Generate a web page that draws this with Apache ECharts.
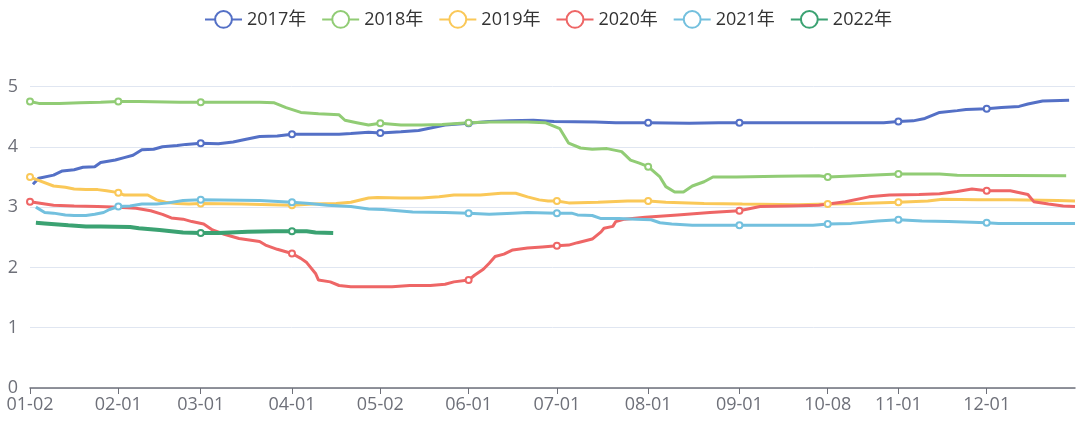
<!DOCTYPE html>
<html>
<head>
<meta charset="utf-8">
<script src="https://cdn.jsdelivr.net/npm/echarts@6/dist/echarts.min.js"></script>
<style>
html,body{margin:0;padding:0;background:#fff;}
#chart{width:1080px;height:433px;}
</style>
</head>
<body>
<div id="chart"></div>
<script>
// ---- categories (calendar days, holidays removed) ----
const monthDays = [31,28,31,30,31,30,31,31,30,31,30,31];
const excludedDays = ['01-01','05-01','10-01','10-02','10-03','10-04','10-05','10-06','10-07'];
const labelDays = ['01-02','02-01','03-01','04-01','05-02','06-01','07-01','08-01','09-01','10-08','11-01','12-01'];
const yTicks = [0,1,2,3,4,5];

const seriesNames = ['2017年','2018年','2019年','2020年','2021年','2022年'];
const seriesColors = ['#5470c6','#91cc75','#fac858','#ee6666','#73c0de','#3ba272'];

// ---- values: [date, value] ----
const d2017 = [['01-03',3.38],['01-05',3.48],['01-10',3.53],['01-13',3.60],['01-17',3.62],['01-20',3.66],['01-24',3.67],['01-26',3.74],['01-31',3.78],['02-03',3.82],['02-06',3.86],['02-09',3.95],['02-13',3.96],['02-16',4.00],['02-21',4.02],['02-24',4.04],['03-01',4.06],['03-07',4.05],['03-12',4.08],['03-16',4.12],['03-21',4.17],['03-27',4.18],['04-01',4.21],['04-17',4.21],['04-21',4.22],['04-27',4.24],['05-02',4.23],['05-09',4.25],['05-15',4.27],['05-24',4.36],['06-01',4.39],['06-08',4.42],['06-15',4.43],['06-23',4.44],['06-30',4.42],['07-14',4.41],['07-21',4.40],['08-01',4.40],['08-15',4.39],['08-25',4.40],['09-01',4.40],['10-13',4.40],['10-27',4.40],['11-01',4.42],['11-06',4.43],['11-10',4.47],['11-15',4.57],['11-21',4.60],['11-24',4.62],['12-01',4.63],['12-06',4.65],['12-12',4.67],['12-15',4.71],['12-20',4.76],['12-29',4.77]];
const d2018 = [['01-02',4.75],['01-05',4.72],['01-12',4.72],['01-19',4.73],['01-26',4.74],['02-01',4.75],['02-08',4.75],['02-22',4.74],['03-01',4.74],['03-21',4.74],['03-26',4.73],['03-30',4.65],['04-04',4.57],['04-10',4.55],['04-17',4.53],['04-19',4.44],['04-23',4.40],['04-27',4.36],['05-02',4.39],['05-09',4.36],['05-16',4.36],['05-23',4.37],['06-01',4.40],['06-08',4.41],['06-21',4.41],['06-27',4.40],['07-02',4.30],['07-05',4.06],['07-09',3.98],['07-13',3.96],['07-18',3.97],['07-23',3.92],['07-26',3.78],['07-29',3.73],['08-01',3.67],['08-05',3.50],['08-07',3.34],['08-10',3.25],['08-13',3.25],['08-16',3.35],['08-20',3.42],['08-23',3.50],['08-31',3.50],['09-14',3.51],['09-28',3.52],['10-08',3.50],['10-22',3.53],['11-01',3.55],['11-15',3.55],['11-21',3.53],['12-28',3.52]];
const d2019 = [['01-02',3.50],['01-04',3.46],['01-10',3.35],['01-14',3.33],['01-17',3.30],['01-21',3.29],['01-25',3.29],['01-28',3.27],['02-01',3.24],['02-03',3.20],['02-11',3.20],['02-14',3.12],['02-17',3.08],['02-21',3.06],['02-25',3.05],['03-01',3.06],['03-15',3.05],['03-25',3.04],['04-01',3.03],['04-08',3.05],['04-16',3.06],['04-21',3.08],['04-27',3.15],['04-30',3.16],['05-09',3.15],['05-16',3.15],['05-22',3.17],['05-27',3.20],['06-05',3.20],['06-12',3.23],['06-17',3.23],['06-21',3.17],['06-25',3.12],['06-28',3.10],['07-01',3.10],['07-05',3.07],['07-15',3.08],['07-25',3.10],['08-01',3.10],['08-07',3.08],['08-20',3.06],['09-02',3.05],['09-21',3.04],['10-08',3.05],['10-19',3.06],['11-01',3.08],['11-11',3.10],['11-16',3.13],['11-28',3.12],['12-09',3.12],['12-25',3.11],['12-31',3.10]];
const d2020 = [['01-02',3.09],['01-10',3.03],['01-17',3.02],['01-25',3.01],['01-30',3.00],['02-04',2.99],['02-07',2.98],['02-12',2.94],['02-16',2.88],['02-19',2.82],['02-23',2.80],['02-26',2.76],['02-28',2.74],['03-02',2.72],['03-05',2.62],['03-09',2.55],['03-14',2.48],['03-21',2.43],['03-23',2.37],['03-27',2.30],['04-01',2.23],['04-04',2.15],['04-06',2.08],['04-09',1.90],['04-10',1.79],['04-14',1.76],['04-17',1.70],['04-21',1.68],['05-06',1.68],['05-12',1.70],['05-19',1.70],['05-24',1.72],['05-27',1.76],['06-01',1.79],['06-03',1.87],['06-06',1.97],['06-08',2.07],['06-10',2.18],['06-13',2.22],['06-16',2.29],['06-21',2.32],['06-26',2.34],['07-01',2.36],['07-05',2.37],['07-08',2.41],['07-13',2.47],['07-16',2.59],['07-17',2.65],['07-20',2.68],['07-21',2.76],['07-24',2.80],['07-31',2.83],['08-11',2.87],['08-22',2.91],['09-01',2.94],['09-08',3.01],['09-18',3.02],['09-28',3.03],['10-14',3.09],['10-22',3.17],['10-29',3.20],['11-08',3.21],['11-15',3.22],['11-21',3.26],['11-26',3.30],['12-01',3.27],['12-09',3.27],['12-15',3.21],['12-17',3.09],['12-22',3.05],['12-27',3.02],['12-31',3.01]];
const d2021 = [['01-04',3.00],['01-07',2.91],['01-10',2.90],['01-14',2.87],['01-17',2.86],['01-21',2.86],['01-24',2.88],['01-27',2.91],['01-29',2.96],['02-01',3.01],['02-05',3.02],['02-09',3.05],['02-14',3.05],['02-18',3.07],['02-23',3.11],['03-01',3.12],['03-21',3.11],['04-01',3.08],['04-07',3.06],['04-13',3.03],['04-21',3.01],['04-27',2.97],['05-03',2.96],['05-13',2.92],['05-24',2.91],['06-01',2.90],['06-08',2.88],['06-16',2.90],['06-21',2.91],['07-01',2.90],['07-06',2.90],['07-08',2.87],['07-13',2.86],['07-16',2.81],['07-22',2.81],['07-28',2.80],['08-02',2.79],['08-05',2.74],['08-09',2.72],['08-16',2.70],['09-01',2.70],['09-26',2.70],['10-08',2.72],['10-16',2.73],['10-25',2.77],['11-01',2.79],['11-09',2.77],['11-18',2.76],['11-26',2.75],['12-01',2.74],['12-05',2.73],['12-31',2.73]];
const d2022 = [['01-04',2.74],['01-07',2.73],['01-15',2.70],['01-21',2.68],['01-26',2.68],['02-05',2.67],['02-08',2.65],['02-15',2.62],['02-23',2.58],['03-01',2.57],['03-07',2.57],['03-17',2.59],['03-26',2.60],['04-01',2.60],['04-06',2.60],['04-09',2.58],['04-15',2.57]];
const seriesPoints = [d2017, d2018, d2019, d2020, d2021, d2022];

// ---- build category list ----
const categories = [];
monthDays.forEach(function (n, m) {
  for (let d = 1; d <= n; d++) {
    const key = String(m + 1).padStart(2, '0') + '-' + String(d).padStart(2, '0');
    if (excludedDays.indexOf(key) < 0) categories.push(key);
  }
});

function toSeriesData(points) {
  const map = {};
  points.forEach(function (p) { map[p[0]] = p[1]; });
  return categories.map(function (c) { return (c in map) ? map[c] : null; });
}

const isLabelDay = function (index, value) { return labelDays.indexOf(value) >= 0; };
const FONT = '"Open Sans", "Noto Sans CJK SC", sans-serif';

const chart = echarts.init(document.getElementById('chart'), null, {renderer: 'canvas'});
chart.setOption({
  animation: false,
  color: seriesColors,
  textStyle: {fontFamily: FONT},
  legend: {
    top: 5,
    left: 199,
    itemWidth: 37,
    itemHeight: 21,
    itemGap: 15,
    textStyle: {fontSize: 18, color: '#333', fontFamily: FONT}
  },
  grid: {left: 30, right: 5, top: 86.5, bottom: 45, containLabel: false},
  xAxis: {
    type: 'category',
    boundaryGap: false,
    data: categories,
    axisLine: {lineStyle: {color: '#6E7079', width: 1.5}},
    axisTick: {interval: isLabelDay, length: 6, lineStyle: {color: '#6E7079'}},
    axisLabel: {interval: isLabelDay, fontSize: 18, color: '#6E7079', margin: 8, fontFamily: FONT}
  },
  yAxis: {
    type: 'value',
    min: yTicks[0],
    max: yTicks[yTicks.length - 1],
    interval: 1,
    axisLabel: {fontSize: 18, color: '#6E7079', margin: 12, fontFamily: FONT},
    splitLine: {lineStyle: {color: '#E0E6F1'}}
  },
  series: seriesNames.map(function (name, i) {
    const w = i === 5 ? 4 : 3;
    return {
      name: name,
      type: 'line',
      data: toSeriesData(seriesPoints[i]),
      connectNulls: true,
      symbol: 'emptyCircle',
      symbolSize: 6,
      showAllSymbol: 'auto',
      lineStyle: {width: w},
      itemStyle: {borderWidth: 2},
      z: i === 5 ? 3 : 2
    };
  })
});
</script>
</body>
</html>
